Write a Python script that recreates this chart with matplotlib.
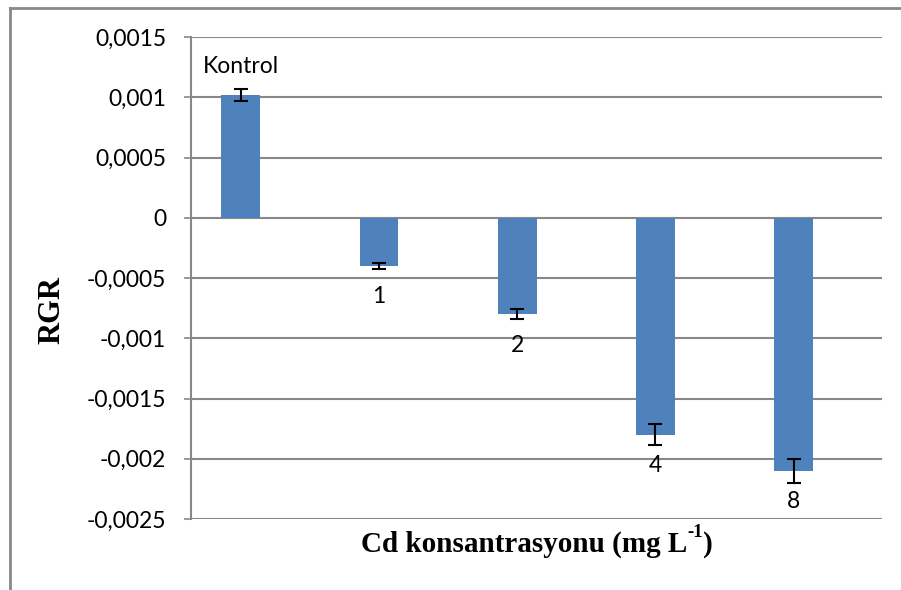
import numpy as np
import matplotlib.pyplot as plt
from matplotlib.lines import Line2D

# Veriler
categories = ["Kontrol", "1", "2", "4", "8"]
rgr_mean = [0.00102, -0.0004, -0.0008, -0.0018, -0.0021]
rgr_err = [0.00005, 0.000025, 0.00004, 0.00009, 0.0001]
y_ticks = [0.0015, 0.001, 0.0005, 0, -0.0005, -0.001, -0.0015, -0.002, -0.0025]
y_tick_labels = ["0,0015", "0,001", "0,0005", "0", "-0,0005", "-0,001", "-0,0015", "-0,002", "-0,0025"]

W, H = 901, 590
fig = plt.figure(figsize=(W / 100, H / 100), dpi=100)
ax = fig.add_axes([191 / W, 1 - 519 / H, (882 - 191) / W, (519 - 37) / H])

grid_color = "#888888"
x_pos = np.arange(len(categories))
ax.bar(x_pos, rgr_mean, width=0.28, color="#4F81BD", zorder=3)
ax.errorbar(x_pos, rgr_mean, yerr=rgr_err, fmt="none", ecolor="black",
            elinewidth=1.5, capsize=5, capthick=1.5, zorder=4)

# Etiketler (offset piksel -> punto)
for x, y, lab in zip(x_pos, rgr_mean, categories):
    off = 28 if y > 0 else -31
    ax.annotate(lab, (x, y), xytext=(0, off * 0.72), textcoords="offset points",
                ha="center", va="center", fontsize=16.5, family="Lato")

ax.set_xlim(-0.36, len(categories) - 0.36)
ax.set_ylim(-0.0025, 0.0015)
ax.set_yticks(y_ticks)
ax.set_yticklabels(y_tick_labels, family="Lato", fontsize=16.5)
ax.set_xticks([])
ax.tick_params(axis="y", length=5, width=1.2, color=grid_color, pad=13)

for t in y_ticks:
    ax.axhline(t, color=grid_color, lw=1.5, zorder=1)

for s in ["top", "right", "bottom"]:
    ax.spines[s].set_visible(False)
ax.spines["left"].set_color(grid_color)
ax.spines["left"].set_linewidth(1.5)

# Eksen başlıkları
serif = dict(family="Liberation Serif", fontweight="bold")
fig.text(52 / W, 1 - 310 / H, "RGR", rotation=90, ha="center", va="center", fontsize=22, **serif)

base_y = 1 - 552 / H
t1 = fig.text(0, base_y, "Cd konsantrasyonu (mg L", ha="left", va="baseline", fontsize=21, **serif)
t2 = ax.annotate("-1", xy=(1, 0.62), xycoords=t1, ha="left", va="bottom",
                 fontsize=13.5, annotation_clip=False, **serif)
t3 = ax.annotate(")", xy=(1, base_y), xycoords=(t2, "figure fraction"), ha="left", va="baseline",
                 fontsize=21, annotation_clip=False, **serif)
fig.canvas.draw()
r = fig.canvas.get_renderer()
left = t1.get_window_extent(r).x0
right = t3.get_window_extent(r).x1
shift = 536.5 - (left + right) / 2
t1.set_x(shift / W)

# Dış çerçeve
fig.add_artist(Line2D([9.5 / W, 1], [1 - 7.5 / H, 1 - 7.5 / H], color=grid_color, lw=2))
fig.add_artist(Line2D([9.5 / W, 9.5 / W], [0, 1 - 7.5 / H], color=grid_color, lw=2))

plt.savefig("out.png", dpi=100)
